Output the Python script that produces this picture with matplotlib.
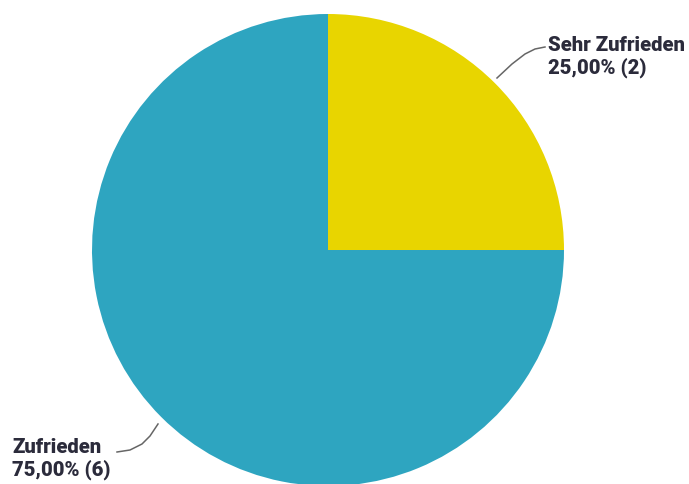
import matplotlib.pyplot as plt
import numpy as np

labels = ['Sehr Zufrieden', 'Zufrieden']
counts = [2, 6]
colors = ['#e8d500', '#2ea5c0']

total = sum(counts)
pct = [c / total * 100 for c in counts]

fig = plt.figure(figsize=(6.89, 4.84), dpi=100)
ax = fig.add_axes([0, 0, 1, 1])

# pie in pixel-like coordinates (y up)
cx, cy, r = 328, 484 - 250, 236
ax.pie(counts, colors=colors, startangle=90, counterclock=False,
       center=(cx, cy), radius=r, frame=True,
       wedgeprops={'linewidth': 0})
ax.set_xlim(0, 689)
ax.set_ylim(0, 484)
ax.set_aspect('equal')
ax.axis('off')

txt_kw = dict(fontfamily='Roboto', fontweight='heavy', fontsize=14.6, color='#2b2b3b')

def fmt(i):
    return f"{labels[i]}\n{pct[i]:.2f}".replace('.', ',') + f"% ({counts[i]})"

# leader lines
ax.plot([497, 512, 525, 535, 545], [484 - 78, 484 - 64, 484 - 54, 484 - 49, 484 - 47],
        color='#666666', lw=1.1)
ax.plot([117, 130, 142, 150, 158], [484 - 452, 484 - 450, 484 - 444, 484 - 436, 484 - 424],
        color='#666666', lw=1.1)

ax.text(548, 484 - 57, fmt(0), ha='left', va='center', linespacing=1.2, **txt_kw)
ax.text(12, 484 - 459, fmt(1), ha='left', va='center', linespacing=1.2, **txt_kw)

fig.savefig('out.png', dpi=100)
